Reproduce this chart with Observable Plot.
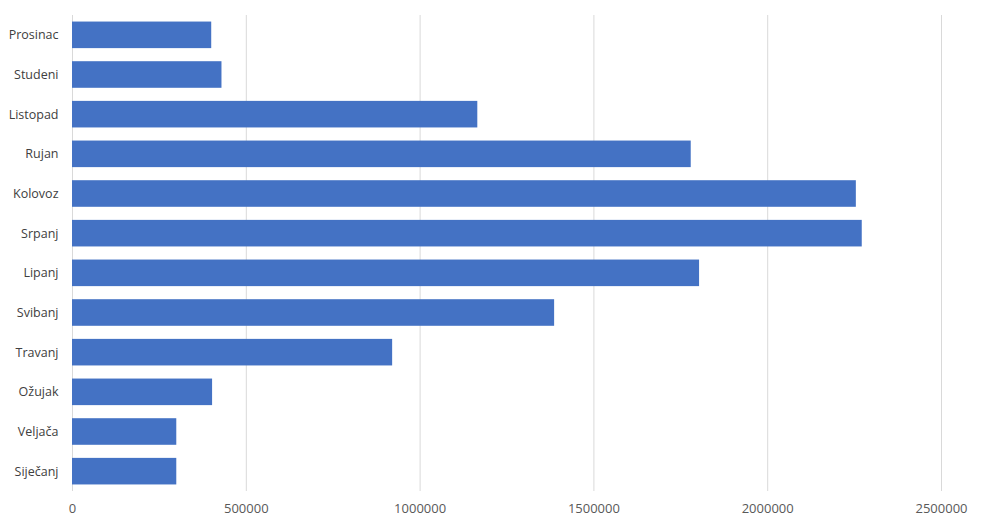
<!DOCTYPE html>
<html>
<head>
<meta charset="utf-8">
<script src="https://cdn.jsdelivr.net/npm/d3@7"></script>
<script src="https://cdn.jsdelivr.net/npm/@observablehq/plot@0.6"></script>
<style>
  html, body { margin: 0; padding: 0; background: #ffffff; }
  #chart { width: 982px; height: 530px; }
</style>
</head>
<body>
<div id="chart"></div>
<script>
const months = ["Siječanj", "Veljača", "Ožujak", "Travanj", "Svibanj", "Lipanj", "Srpanj", "Kolovoz", "Rujan", "Listopad", "Studeni", "Prosinac"];
const values = [300000, 300000, 403000, 921000, 1387000, 1804000, 2272000, 2255000, 1780000, 1166000, 430000, 400500];
const xTicks = [0, 500000, 1000000, 1500000, 2000000, 2500000];

const data = months.map((m, i) => ({month: m, value: values[i]}));

const chart = Plot.plot({
  width: 982,
  height: 530,
  marginLeft: 72,
  marginRight: 41,
  marginTop: 15,
  marginBottom: 39,
  style: {fontFamily: "'Open Sans', sans-serif", fontSize: "12.5px", color: "#595959", background: "#ffffff"},
  x: {domain: [0, 2500000], ticks: xTicks, label: null},
  y: {domain: months.slice().reverse(), paddingInner: 0.33, paddingOuter: 0.165, round: false, label: null},
  marks: [
    Plot.gridX(xTicks, {stroke: "#d9d9d9", strokeOpacity: 1, strokeWidth: 1}),
    Plot.barX(data, {x: "value", y: "month", fill: "#4472C4"}),
    Plot.axisX({ticks: xTicks, tickSize: 0, tickPadding: 12, tickFormat: d => String(d), fill: "#595959", fontSize: 13, label: null}),
    Plot.axisY({tickSize: 0, tickPadding: 14, fill: "#404040", fontSize: 12.5, label: null})
  ]
});
document.getElementById("chart").appendChild(chart);
</script>
</body>
</html>
